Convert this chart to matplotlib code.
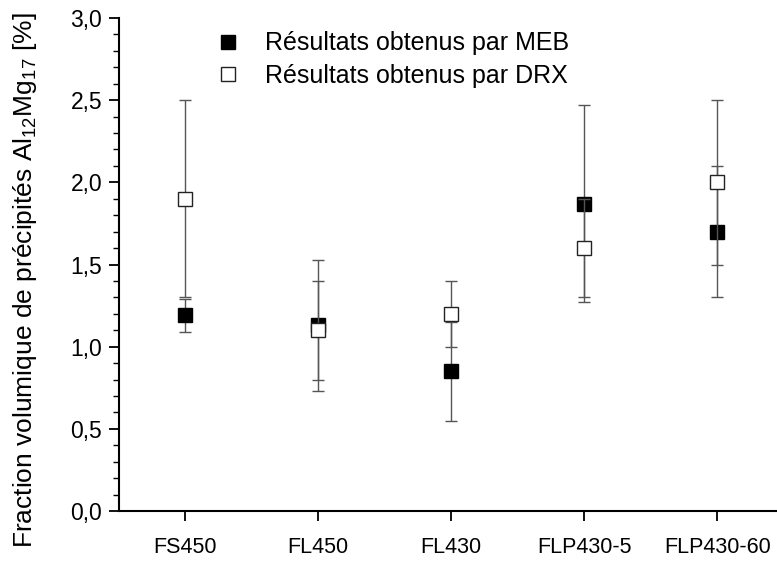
import matplotlib
matplotlib.use("Agg")
import matplotlib.pyplot as plt
from matplotlib.lines import Line2D
from matplotlib.ticker import MultipleLocator, FuncFormatter

plt.rcParams['font.family'] = ['Liberation Sans', 'DejaVu Sans']
plt.rcParams['mathtext.fontset'] = 'custom'
plt.rcParams['mathtext.rm'] = 'Liberation Sans'
plt.rcParams['mathtext.it'] = 'Liberation Sans'

categories = ["FS450", "FL450", "FL430", "FLP430-5", "FLP430-60"]
meb_values = [1.19, 1.13, 0.85, 1.87, 1.70]
meb_errors = [0.10, 0.40, 0.30, 0.60, 0.40]
drx_values = [1.90, 1.10, 1.20, 1.60, 2.00]
drx_errors = [0.60, 0.30, 0.20, 0.30, 0.50]
legend_labels = ["Résultats obtenus par MEB", "Résultats obtenus par DRX"]

x = list(range(1, len(categories) + 1))

fig = plt.figure(figsize=(7.77, 5.61), dpi=100)
ax = fig.add_axes([0.153, 0.089, 0.847, 0.879])

err_kw = dict(ecolor='#555555', elinewidth=1.0, capsize=4, capthick=1.0, linestyle='none')
ax.errorbar(x, meb_values, yerr=meb_errors, marker='s', markersize=10,
            markerfacecolor='black', markeredgecolor='black', markeredgewidth=1.0,
            zorder=3, **err_kw)
ax.errorbar(x, drx_values, yerr=drx_errors, marker='s', markersize=10,
            markerfacecolor='white', markeredgecolor='#222222', markeredgewidth=1.0,
            zorder=4, **err_kw)

ax.set_xlim(0.5, 5.45)
ax.set_ylim(0, 3.0)
ax.set_xticks(x)
ax.set_xticklabels(categories, fontsize=15.5)
ax.yaxis.set_major_locator(MultipleLocator(0.5))
ax.yaxis.set_minor_locator(MultipleLocator(0.1))
ax.yaxis.set_major_formatter(FuncFormatter(lambda v, p: f"{v:.1f}".replace('.', ',')))
ax.tick_params(axis='y', which='major', labelsize=16.5, length=7, width=1.3, direction='out', pad=5)
ax.tick_params(axis='y', which='minor', length=4, width=1.0, direction='out')
ax.tick_params(axis='x', which='major', length=7, width=1.3, direction='out', pad=12)

for s in ['top', 'right']:
    ax.spines[s].set_visible(False)
for s in ['left', 'bottom']:
    ax.spines[s].set_linewidth(1.5)

ax.set_ylabel("Fraction volumique de précipités Al$_{12}$Mg$_{17}$ [%]", fontsize=19)
# centre the label on the figure height, as in the reference
ax.yaxis.set_label_coords(-0.122, 0.468)

handles = [
    Line2D([], [], marker='s', linestyle='none', markersize=10,
           markerfacecolor='black', markeredgecolor='black'),
    Line2D([], [], marker='s', linestyle='none', markersize=10,
           markerfacecolor='white', markeredgecolor='#222222'),
]
ax.legend(handles, legend_labels, loc='upper left', bbox_to_anchor=(0.252, 0.984),
          bbox_transform=fig.transFigure, frameon=False, fontsize=18,
          handlelength=0.8, handletextpad=1.05, labelspacing=0.35)

fig.savefig("out.png", dpi=100)
